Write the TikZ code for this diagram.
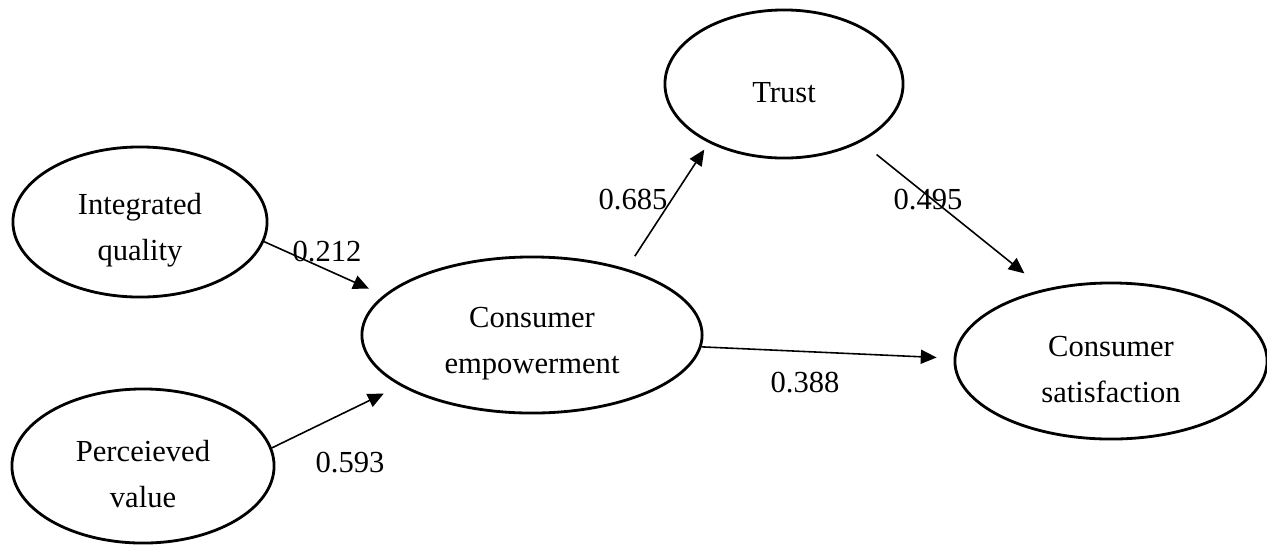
\documentclass[tikz,border=0pt]{standalone}
\usepackage{fontspec}
\setmainfont{Liberation Serif}
\usetikzlibrary{shapes.geometric, arrows.meta}

\newcommand{\topstrut}{\rule{0pt}{10.6pt}}

\begin{document}
\begin{tikzpicture}[
    x=0.01cm, y=-0.01cm,
    latent/.style={ellipse, draw, line width=0.8pt, inner sep=0pt, align=center, font=\fontsize{8.7}{13}\selectfont},
    coef/.style={inner sep=1pt, font=\fontsize{8.7}{13}\selectfont},
    arrow/.style={-{Triangle[length=4.5pt, width=4pt]}, line width=0.45pt},
]
\useasboundingbox (0,0) rectangle (1267,545);

% Latent variables
\node[latent, minimum width=2.54cm, minimum height=1.50cm] (quality) at (140,222) {\topstrut Integrated\\quality};
\node[latent, minimum width=2.62cm, minimum height=1.54cm] (value) at (143,466) {\topstrut Perceieved\\value};
\node[latent, minimum width=3.40cm, minimum height=1.56cm] (empower) at (532,335) {\topstrut Consumer\\empowerment};
\node[latent, minimum width=2.38cm, minimum height=1.48cm] (trust) at (784,84) {\topstrut Trust};
\node[latent, minimum width=3.12cm, minimum height=1.56cm] (satisf) at (1111,361) {\topstrut Consumer\\satisfaction};

% Paths
\draw[arrow, shorten >=0.16cm] (quality.-9) -- (empower.165);
\draw[arrow, shorten >=0.18cm] (value.8) -- (empower.201);
\draw[arrow, shorten <=0.15cm, shorten >=0.08cm] (empower.35) -- (trust.218);
\draw[arrow, shorten <=0.2cm, shorten >=0.25cm] (trust.-37) -- (satisf.133);
\draw[arrow, shorten >=0.17cm] (empower.-4) -- (satisf.179);

% Path coefficients
\node[coef] (c1) at (327,252) {0.212};
\node[coef] (c2) at (350,463) {0.593};
\node[coef] (c3) at (633,200) {0.685};
\node[coef] (c4) at (928,200) {0.495};
\node[coef] (c5) at (805,383) {0.388};

\end{tikzpicture}
\end{document}
